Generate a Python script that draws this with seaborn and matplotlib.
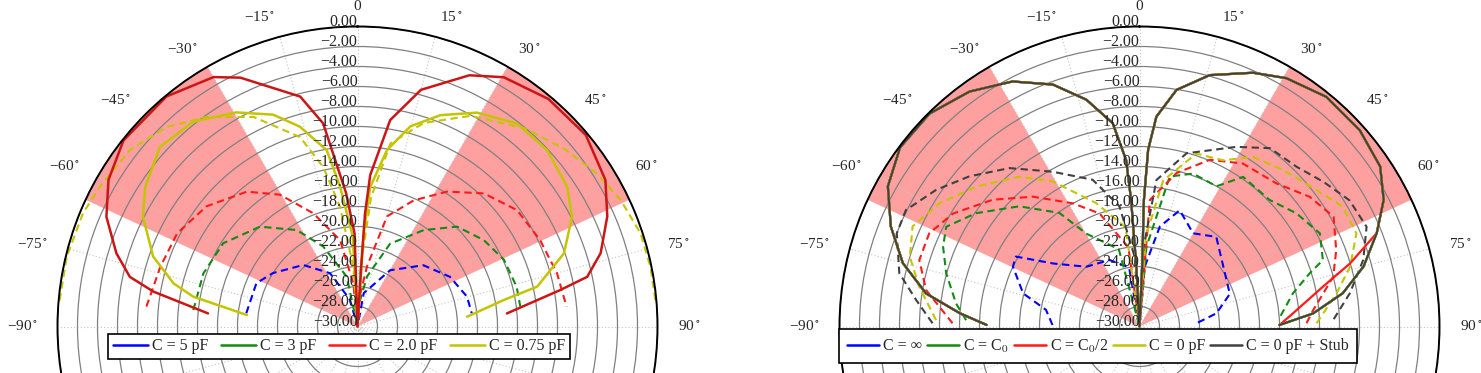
import numpy as np
import matplotlib
matplotlib.use("Agg")
import matplotlib.pyplot as plt
from matplotlib.lines import Line2D
import seaborn as sns

# ---------------- data (angle in degrees, gain in dB) ----------------
ring_values = list(range(0, -31, -2))
angle_labels = list(range(-90, 91, 15))
sector_start = [30, -65]
sector_end = [65, -30]

# left panel
left_labels = ["C = 5 pF", "C = 3 pF", "C = 2.0 pF", "C = 0.75 pF"]

l_red_th = [-85, -80.3, -77.7, -73.1, -66.4, -59.5, -51.5, -39.7, -30, -25.2, -14, -9.6, -4.9, -1.8, 0,
            3.5, 3.8, 4.8, 9, 15, 24, 30.4, 40, 50, 59.4, 66.2, 73.2, 77.8, 79.8, 85]
l_red_db = [-15, -9.3, -6.7, -4.8, -2.6, -1.1, -0.1, -0.1, -1.2, -2.5, -6.3, -9.4, -16.6, -20.7, -30,
            -24, -18.7, -14.8, -9.1, -5.5, -2.5, -1.1, -0.3, -0.2, -1.2, -2.7, -4.6, -6.5, -9.4, -15]

l_yel_th = [-84.1, -79.7, -76.8, -71.1, -62.9, -56.7, -47.7, -38.7, -29.5, -21.7, -16.1, -9.9, -7.1, -3, 0,
            3.8, 5.2, 9.5, 14.8, 21.4, 29.2, 38.1, 47, 56.3, 62.9, 70.5, 77.5, 79.7, 84.9]
l_yel_db = [-18.9, -13.3, -11.1, -8.4, -5.9, -4.6, -3.3, -3.75, -5.4, -7.2, -9.2, -12.1, -15.9, -21, -30,
            -20.7, -16, -12.1, -9.3, -7.3, -5.5, -4.2, -4.1, -4.8, -5.9, -8.1, -11.6, -15.1, -19]

l_yeld_th = [-85, -76.5, -67.6, -61.5, -52.2, -43.7, -35.7, -26.4, -16.9, -12.1, -8.3, -4, 0,
             3, 6, 10.2, 18, 28.2, 40, 49.2, 57.4, 64.3, 71.8, 78.5, 85]
l_yeld_db = [-0.1, -0.1, -0.3, -0.7, -1.2, -2.4, -4.2, -6.6, -10.2, -13.7, -17.9, -24, -30,
             -24, -17, -11.4, -8.6, -6.1, -4.1, -2.75, -1.6, -0.8, -0.2, -0.1, -0.1]

l_redd_th = [-84.6, -73.2, -62.7, -51.5, -39.4, -30.5, -21.3, -11.4, -5.5, 0,
             4, 9, 15, 24, 33.6, 43.5, 53.9, 64.7, 75.1, 84.6]
l_redd_db = [-8.8, -9.4, -9.7, -10.7, -12.55, -14.7, -17.85, -21.2, -25.7, -30,
             -27, -23.9, -18.6, -16.2, -13.8, -11.65, -10.25, -9.8, -9.35, -9]

l_grnd_th = [-84.3, -71, -58.2, -44.3, -32.2, -23.2, -12.2, 0, 5, 10.8, 21.5, 34.5, 44.9, 55.6, 65.5, 76, 83]
l_grnd_db = [-13.5, -13.7, -14.2, -16.05, -18.6, -21.3, -24.9, -30, -27.5, -24.9, -21.1, -18.3, -15.9,
             -14.7, -13.9, -13.6, -13.6]

l_blud_th = [-83.2, -66.8, -57.7, -41.4, -27.3, -15.8, 0, 10.6, 30.1, 47.1, 61.8, 74.8, 83.4]
l_blud_db = [-18.8, -19, -20, -21.8, -24, -27.2, -30, -26.6, -23.5, -21, -19.5, -18.65, -18.5]

# right panel
right_labels = ["C = \u221e", "C = C$_0$", "C = C$_0$/2", "C = 0 pF", "C = 0 pF + Stub"]

r_main_th = [-89.4, -85.8, -81.2, -75, -68.1, -60.9, -53.2, -44.6, -35.9, -27.4, -19.7, -13.2, -7.5, -4.6,
             -3.8, -3, 0, 2.5, 2, 2.8, 4.6, 8.9, 15.6, 24.1, 30.6, 39.1, 48.3, 56.4, 62.6, 68.5, 75, 80.7,
             85.7, 89.4]
r_main_db = [-14.7, -12, -8.4, -5.5, -3.2, -1.2, -0.1, -0.1, -1.0, -2.4, -4.3, -6.7, -9.5, -13.3,
             -17.3, -24, -30, -24, -17.3, -12.3, -8.95, -6.05, -3.9, -2.2, -1.15, -0.4, -0.5, -1.1, -2.5,
             -4.5, -6.8, -9.4, -12.6, -16]
r_red_tail_th = [73.3, 77.7, 85.1, 89.4]
r_red_tail_db = [-8.0, -11.2, -14.6, -16]

r_blkd_th = [-89.1, -83.2, -77.5, -69, -63.5, -56.1, -48.6, -39.4, -29.3, -17.7, -9.5, -4, 0,
             3, 6.6, 15.2, 28.3, 36.2, 44.5, 51.8, 59, 66.3, 73.4, 81, 88]
r_blkd_db = [-9.3, -7.5, -5.4, -4, -3.9, -5.5, -7.3, -9.5, -12.25, -14.6, -17.8, -23, -30,
             -22, -15.25, -12.05, -9.6, -7.9, -7.6, -6.6, -5.5, -5.2, -6.65, -8.7, -10.6]

r_yeld_th = [-88.2, -79.7, -73.1, -66.2, -58.4, -49.4, -38.7, -30.9, -19.4, -8, 0,
             4, 9.2, 18.2, 26.7, 33.8, 42.6, 52.4, 59.5, 66.8, 74.1, 80.4, 89]
r_yeld_db = [-9.65, -7.6, -6, -5.2, -6.5, -8.5, -10.8, -13.1, -16.9, -20, -30,
             -21, -15.2, -11.8, -11.4, -9.6, -8.75, -7.65, -6.4, -6.4, -8.1, -10, -12.3]

r_redd_th = [-89, -80.3, -73.2, -66.1, -58.8, -49.2, -39.4, -28.4, -19.5, -8, 0,
             4.7, 13.6, 22.9, 32.4, 43.7, 52.7, 60.5, 68.8, 75.6, 84.6, 88.9]
r_redd_db = [-11.3, -8.35, -7, -7, -8.2, -10.6, -13.2, -16, -18, -22, -30,
             -17.3, -14.2, -11.9, -10.7, -10.2, -8.6, -7.7, -8.9, -10, -12.55, -13.3]

r_grnd_th = [-87.9, -82.8, -74.6, -67.9, -62.7, -55.3, -45, -35.2, -29.8, -15, 0,
             5, 11.4, 19.3, 28.8, 34.7, 45.8, 54.2, 62.7, 70.1, 72.6, 77.8, 86]
r_grnd_db = [-12.65, -11.5, -9.95, -8.8, -8.25, -10.1, -13, -16.1, -19.3, -22, -30,
             -22, -14.7, -13.8, -14, -11.8, -11.85, -10.65, -9.7, -10.5, -12.15, -14.3, -15.9]

r_blud_th = [-89, -79.9, -74.1, -64.7, -60.5, -53.9, -41.7, -24.3, -10, 0,
             5, 11.5, 19.1, 29.9, 40.6, 54.5, 70.2, 80.3, 86.8]
r_blud_db = [-21.3, -20.5, -17.9, -16, -15.8, -19.3, -22, -22.7, -24, -30,
             -24, -19.8, -17.7, -19.25, -18.2, -19.7, -20.4, -22.2, -24.3]

# ---------------- style ----------------
sns.set_style("white")
plt.rcParams["font.family"] = ["Liberation Serif", "DejaVu Serif"]
plt.rcParams["mathtext.fontset"] = "stix"

BLUE, GREEN, RED, YEL, BLK = "#0000ff", "#138a13", "#ff1a1a", "#c4c400", "#404040"
DARKRED = "#cc1515"
PINK = "#ffa0a0"
DASH = (0, (3.5, 2.2))

W, H, R = 1481, 373, 300
fig = plt.figure(figsize=(W / 100, H / 100), dpi=100)


def make_axes(cx, cy=326.5):
    ax = fig.add_axes([(cx - R) / W, (H - cy - R) / H, 2 * R / W, 2 * R / H], projection="polar")
    ax.set_theta_zero_location("N")
    ax.set_theta_direction(-1)
    # shaded sectors
    s = np.array(sector_start)
    e = np.array(sector_end)
    ax.bar(np.radians((s + e) / 2), 30, width=np.radians(e - s), bottom=-30,
           color=PINK, edgecolor="none", zorder=0.5)
    return ax


def finish_axes(ax):
    ax.set_rlim(-30, 0)
    ax.set_yticks(ring_values)
    ax.set_yticklabels([])
    ax.set_xticks(np.radians(np.arange(0, 360, 15)))
    ax.set_xticklabels([])
    ax.yaxis.grid(True, color="#808080", lw=0.9, ls="-")
    ax.xaxis.grid(True, color="#c4c4c4", lw=0.8, ls=(0, (1, 2)))
    ax.spines["polar"].set_color("black")
    ax.spines["polar"].set_linewidth(1.4)
    ax.set_xlabel("")
    ax.set_ylabel("")
    for v in ring_values:
        ax.text(0, v + 0.4, f"{v:.2f}".replace("-", "\u2212"), ha="right", va="center", fontsize=11.5)
    for a in angle_labels:
        txt = "0" if a == 0 else f"{a}$^\\circ$".replace("-", "\u2212")
        ha = "center" if a == 0 else ("left" if a > 0 else "right")
        ax.text(np.radians(a), 2.0, txt, ha=ha, va="center", fontsize=11)


def curve(ax, th, db, color, dashed=False, lw=1.6):
    sns.lineplot(x=np.radians(th), y=db, ax=ax, sort=False, estimator=None, color=color,
                 lw=lw, linestyle=DASH if dashed else "-")


# ---------------- left panel ----------------
ax1 = make_axes(357.5)
curve(ax1, l_blud_th, l_blud_db, BLUE, dashed=True, lw=1.5)
curve(ax1, l_grnd_th, l_grnd_db, GREEN, dashed=True, lw=1.5)
curve(ax1, l_redd_th, l_redd_db, RED, dashed=True, lw=1.5)
curve(ax1, l_yeld_th, l_yeld_db, YEL, dashed=True, lw=1.5)
curve(ax1, l_yel_th, l_yel_db, YEL, lw=1.8)
curve(ax1, l_red_th, l_red_db, DARKRED, lw=1.8)
finish_axes(ax1)

h1 = [Line2D([], [], color=c, lw=1.8) for c in [BLUE, GREEN, RED, YEL]]
leg1 = ax1.legend(h1, left_labels, loc="center", bbox_to_anchor=(339 / W, 26.5 / H),
                  bbox_transform=fig.transFigure, ncol=4, fontsize=11.5, frameon=True, fancybox=False,
                  edgecolor="black", framealpha=1, handlelength=2.2, handletextpad=0.25,
                  columnspacing=0.8, borderpad=0.3, borderaxespad=0)
leg1.get_frame().set_linewidth(1.2)
leg1.set_zorder(10)

# ---------------- right panel ----------------
ax2 = make_axes(1139.5)
curve(ax2, r_blud_th, r_blud_db, BLUE, dashed=True, lw=1.5)
curve(ax2, r_grnd_th, r_grnd_db, GREEN, dashed=True, lw=1.5)
curve(ax2, r_redd_th, r_redd_db, RED, dashed=True, lw=1.5)
curve(ax2, r_yeld_th, r_yeld_db, YEL, dashed=True, lw=1.5)
curve(ax2, r_blkd_th, r_blkd_db, BLK, dashed=True, lw=1.5)

curve(ax2, r_main_th, r_main_db, BLUE)
curve(ax2, r_main_th, r_main_db, GREEN)
curve(ax2, r_main_th[:30] + r_red_tail_th, r_main_db[:30] + r_red_tail_db, RED)
curve(ax2, r_main_th, r_main_db, YEL)
curve(ax2, r_main_th, r_main_db, BLK, lw=1.4)
finish_axes(ax2)

h2 = [Line2D([], [], color=c, lw=1.8) for c in [BLUE, GREEN, RED, YEL, BLK]]
leg2 = ax2.legend(h2, right_labels, loc="center", bbox_to_anchor=(1098 / W, 27 / H),
                  bbox_transform=fig.transFigure, ncol=5, fontsize=11.5, frameon=True, fancybox=False,
                  edgecolor="black", framealpha=1, handlelength=2.0, handletextpad=0.25,
                  columnspacing=0.3, borderpad=0.5, borderaxespad=0)
leg2.get_frame().set_linewidth(1.2)
leg2.set_zorder(10)

fig.savefig("out.png", dpi=100)
